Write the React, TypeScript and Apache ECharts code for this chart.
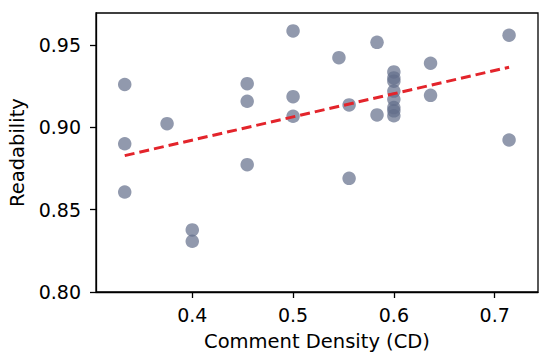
import React, { useEffect, useRef } from "react";
import * as echarts from "echarts";

const commentDensity = [
  0.333, 0.333, 0.333, 0.375, 0.4, 0.4, 0.4545, 0.4545, 0.4545,
  0.5, 0.5, 0.5, 0.5455, 0.5556, 0.5556, 0.5833, 0.5833,
  0.6, 0.6, 0.6, 0.6, 0.6, 0.6, 0.6, 0.6,
  0.6364, 0.6364, 0.7143, 0.7143,
];
const readability = [
  0.926, 0.890, 0.8607, 0.9022, 0.8377, 0.8308, 0.9265, 0.9158, 0.8773,
  0.9585, 0.9186, 0.9067, 0.9423, 0.9136, 0.869, 0.9516, 0.9075,
  0.9336, 0.930, 0.928, 0.922, 0.917, 0.912, 0.910, 0.907,
  0.9389, 0.9194, 0.9559, 0.8923,
];
const trendX = [0.333, 0.7143];
const trendY = [0.8828, 0.9365];
const xTicks = [0.4, 0.5, 0.6, 0.7];
const yTicks = [0.8, 0.85, 0.9, 0.95];

export default function App() {
  const ref = useRef<HTMLDivElement>(null);
  useEffect(() => {
    if (!ref.current) return;
    const chart = echarts.init(ref.current, undefined, { renderer: "svg" });
    const font = "DejaVu Sans";
    chart.setOption({
      animation: false,
      grid: {
        left: 96,
        right: 12,
        top: 13,
        bottom: 72,
        outerBoundsMode: "none",
        containLabel: false,
        show: true,
        borderColor: "#000",
        borderWidth: 1.3,
        backgroundColor: "transparent",
      },
      xAxis: {
        type: "value",
        min: 0.3045,
        max: 0.743,
        name: "Comment Density (CD)",
        nameLocation: "middle",
        nameGap: 39,
        nameTextStyle: { fontFamily: font, fontSize: 19.5, color: "#000" },
        axisLine: { show: true, lineStyle: { color: "#000", width: 1.3 } },
        axisTick: {
          show: true,
          length: 6,
          lineStyle: { color: "#000", width: 1.3 },
          customValues: xTicks,
        },
        axisLabel: {
          fontFamily: font,
          fontSize: 19,
          color: "#000",
          margin: 13,
          customValues: xTicks,
          formatter: (v: number) => v.toFixed(1),
        },
        splitLine: { show: false },
      },
      yAxis: {
        type: "value",
        min: 0.8,
        max: 0.9694,
        name: "Readability",
        nameLocation: "middle",
        nameGap: 67,
        nameRotate: 90,
        nameTextStyle: { fontFamily: font, fontSize: 19.5, color: "#000" },
        axisLine: { show: true, lineStyle: { color: "#000", width: 1.3 } },
        axisTick: {
          show: true,
          length: 6,
          lineStyle: { color: "#000", width: 1.3 },
          customValues: yTicks,
        },
        axisLabel: {
          fontFamily: font,
          fontSize: 19,
          color: "#000",
          margin: 15,
          customValues: yTicks,
          formatter: (v: number) => v.toFixed(2),
        },
        splitLine: { show: false },
      },
      series: [
        {
          type: "scatter",
          data: commentDensity.map((x, i) => [x, readability[i]]),
          symbolSize: 13.5,
          itemStyle: { color: "rgb(98,109,138)", opacity: 0.7 },
          z: 2,
        },
        {
          type: "line",
          data: trendX.map((x, i) => [x, trendY[i]]),
          symbol: "none",
          lineStyle: { color: "#e3242b", width: 3, type: [10, 5] },
          z: 3,
        },
      ],
    });
    return () => chart.dispose();
  }, []);
  return <div ref={ref} style={{ width: 550, height: 364, position: "absolute", left: 0, top: 0 }} />;
}
